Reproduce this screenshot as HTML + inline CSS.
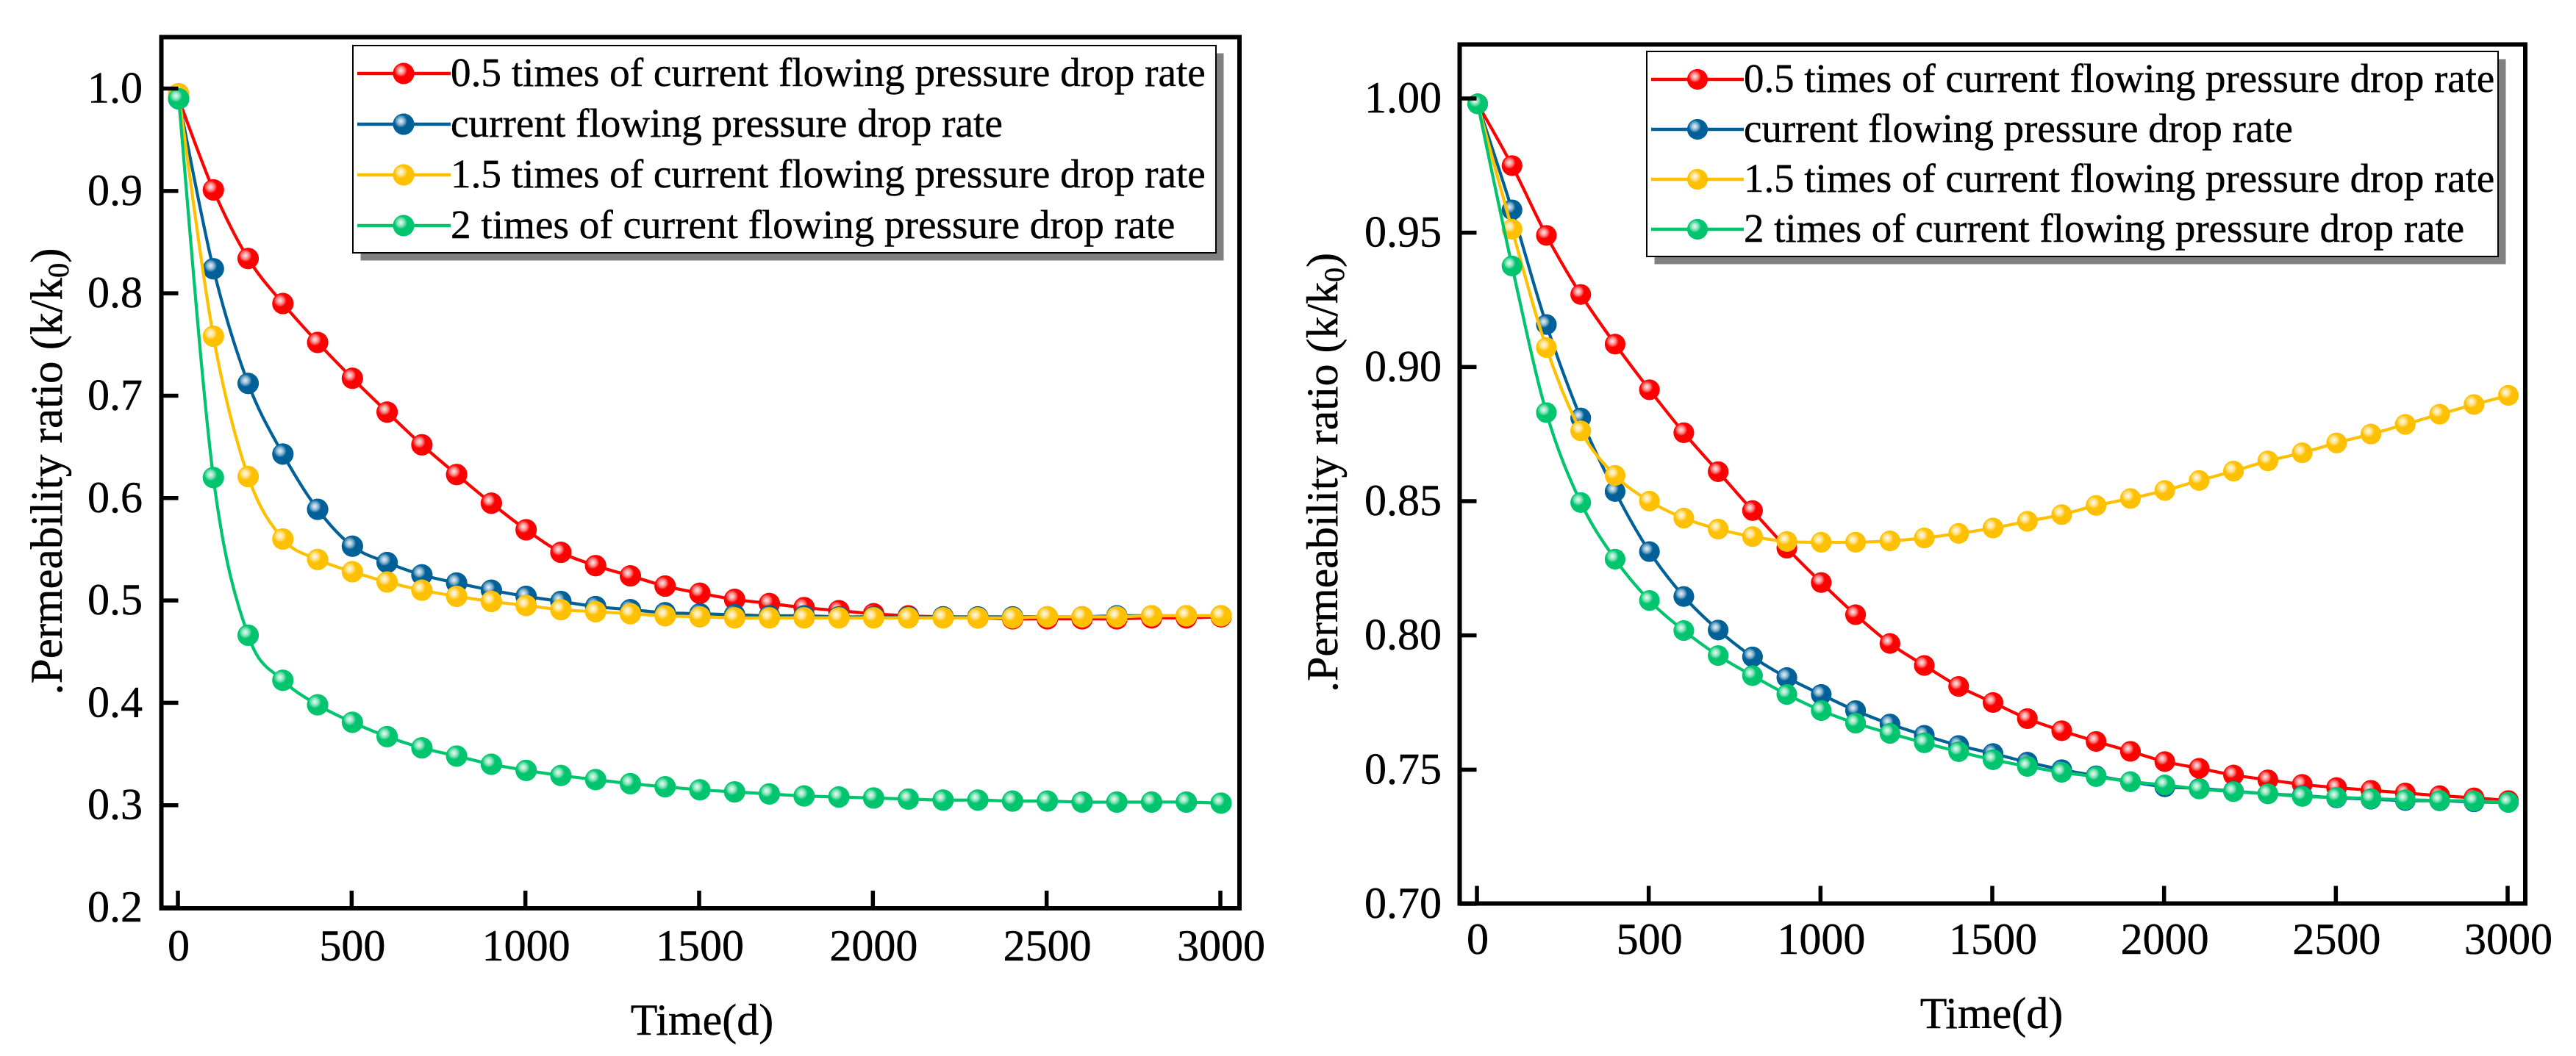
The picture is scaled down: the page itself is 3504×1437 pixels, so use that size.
<!DOCTYPE html>
<html lang="en">
<head>
<meta charset="utf-8">
<title>Permeability ratio over time</title>
<style>
html,body{margin:0;padding:0;background:#fff}
svg{display:block}
text{font-family:"Liberation Serif","Times New Roman",serif;fill:#000;stroke:#000;stroke-width:0.45px}
</style>
</head>
<body>
<svg id="figure" xmlns="http://www.w3.org/2000/svg" width="3504" height="1437" viewBox="0 0 3504 1437">
<defs id="defs"></defs>
<rect width="3504" height="1437" fill="#fff"></rect>
</svg>
<script>
const timeDays = [0,100,200,300,400,500,600,700,800,900,1000,1100,1200,1300,1400,1500,1600,1700,1800,1900,2000,2100,2200,2300,2400,2500,2600,2700,2800,2900,3000];
const xTickLabels = [0,500,1000,1500,2000,2500,3000];
const leftYTicks = ["0.2","0.3","0.4","0.5","0.6","0.7","0.8","0.9","1.0"];
const rightYTicks = ["0.70","0.75","0.80","0.85","0.90","0.95","1.00"];
const seriesLabels = ["0.5 times of current flowing pressure drop rate","current flowing pressure drop rate","1.5 times of current flowing pressure drop rate","2 times of current flowing pressure drop rate"];
const seriesKeys = ["half-rate","current-rate","one-and-half-rate","double-rate"];
const seriesColors = ["#ff0000","#006199","#ffc000","#00c56e"];

const leftHalf = [0.990,0.901,0.834,0.790,0.752,0.717,0.684,0.652,0.623,0.595,0.569,0.547,0.534,0.524,0.514,0.507,0.501,0.497,0.493,0.490,0.487,0.485,0.484,0.483,0.482,0.482,0.482,0.482,0.483,0.483,0.484];
const leftCurrent = [0.990,0.824,0.712,0.643,0.589,0.553,0.537,0.525,0.517,0.510,0.504,0.499,0.494,0.491,0.488,0.487,0.486,0.485,0.485,0.484,0.484,0.484,0.484,0.484,0.484,0.484,0.484,0.485,0.485,0.485,0.485];
const leftOneHalf = [0.995,0.758,0.621,0.560,0.540,0.528,0.518,0.510,0.504,0.499,0.495,0.491,0.489,0.487,0.485,0.484,0.483,0.483,0.483,0.483,0.483,0.483,0.483,0.483,0.483,0.484,0.484,0.484,0.485,0.485,0.485];
const leftDouble = [0.990,0.620,0.466,0.422,0.398,0.381,0.367,0.356,0.348,0.340,0.334,0.329,0.325,0.321,0.318,0.315,0.313,0.311,0.309,0.308,0.307,0.306,0.305,0.305,0.304,0.304,0.303,0.303,0.303,0.303,0.302];

const rightHalf = [0.998,0.975,0.949,0.927,0.9085,0.8915,0.8755,0.861,0.8465,0.8325,0.8197,0.8077,0.797,0.7888,0.781,0.775,0.769,0.7645,0.7605,0.7568,0.753,0.7505,0.748,0.7462,0.7445,0.7433,0.7423,0.7413,0.7403,0.7395,0.7385];
const rightCurrent = [0.998,0.9585,0.9158,0.881,0.8536,0.8312,0.8145,0.802,0.792,0.7843,0.778,0.772,0.767,0.7628,0.759,0.756,0.7528,0.750,0.7477,0.7455,0.7436,0.743,0.742,0.741,0.7403,0.7395,0.739,0.7385,0.7384,0.738,0.7378];
const rightOneHalf = [0.998,0.9513,0.9072,0.8762,0.8596,0.850,0.8437,0.8396,0.8368,0.835,0.8347,0.8347,0.8352,0.8363,0.838,0.840,0.8425,0.845,0.8484,0.851,0.854,0.8577,0.8612,0.865,0.868,0.8717,0.875,0.8786,0.8824,0.886,0.8894];
const rightDouble = [0.998,0.9376,0.883,0.8495,0.8284,0.813,0.8018,0.7925,0.785,0.778,0.772,0.7673,0.7635,0.760,0.7567,0.7537,0.7512,0.749,0.7474,0.7455,0.7443,0.7428,0.7418,0.741,0.740,0.7397,0.7392,0.7388,0.7385,0.7383,0.7378];

const leftSeries = [leftHalf,leftCurrent,leftOneHalf,leftDouble];
const rightSeries = [rightHalf,rightCurrent,rightOneHalf,rightDouble];

const svg = document.getElementById('figure');
const defs = document.getElementById('defs');
const NS = 'http://www.w3.org/2000/svg';

function mk(parent, tag, attrs, txt){
  const e = document.createElementNS(NS, tag);
  for (const k in attrs) e.setAttribute(k, attrs[k]);
  if (txt !== undefined) e.textContent = txt;
  parent.appendChild(e);
  return e;
}
seriesColors.forEach(function(c,i){
  const g = mk(defs,'radialGradient',{id:'ball'+i,cx:'0.37',cy:'0.36',r:'0.62'});
  mk(g,'stop',{offset:'0','stop-color':'#ffffff','stop-opacity':'0.92'});
  mk(g,'stop',{offset:'0.14','stop-color':'#ffffff','stop-opacity':'0.72'});
  mk(g,'stop',{offset:'0.48','stop-color':c,'stop-opacity':'1'});
  mk(g,'stop',{offset:'1','stop-color':c,'stop-opacity':'1'});
});

function smoothPath(pts){
  let d = 'M' + pts[0][0] + ' ' + pts[0][1];
  for (let i=0;i<pts.length-1;i++){
    const p0 = pts[Math.max(i-1,0)], p1 = pts[i], p2 = pts[i+1], p3 = pts[Math.min(i+2,pts.length-1)];
    const c1x = p1[0]+(p2[0]-p0[0])/6, c1y = p1[1]+(p2[1]-p0[1])/6;
    const c2x = p2[0]-(p3[0]-p1[0])/6, c2y = p2[1]-(p3[1]-p1[1])/6;
    d += 'C'+c1x.toFixed(2)+' '+c1y.toFixed(2)+' '+c2x.toFixed(2)+' '+c2y.toFixed(2)+' '+p2[0].toFixed(2)+' '+p2[1].toFixed(2);
  }
  return d;
}

function drawPanel(side, p, yTicks, series){
  const x = function(v){ return p.x0 + v * (p.x3000 - p.x0) / 3000; };
  const y = function(v){ return p.yTop + (p.vTop - v) * (p.yBot - p.yTop) / (p.vTop - p.vBot); };
  const panel = mk(svg,'g',{});
  
  

  // series
  series.forEach(function(vals,si){
    const g = mk(panel,'g',{});
    
    
    const pts = vals.map(function(v,i){ return [x(timeDays[i]), y(v)]; });
    const line = mk(g,'path',{d:smoothPath(pts),fill:'none',stroke:seriesColors[si],'stroke-width':4.2,'stroke-linejoin':'round'});
    
    
    pts.forEach(function(pt,i){
      const m = mk(g,'g',{});
      
      
      mk(m,'circle',{cx:pt[0],cy:pt[1],r:p.r,fill:seriesColors[si]});
      mk(m,'circle',{cx:pt[0],cy:pt[1],r:p.r,fill:'url(#ball'+si+')'});
    });
  });

  // frame
  const frame = mk(panel,'rect',{x:p.fl,y:p.ft,width:p.fr-p.fl,height:p.fb-p.ft,fill:'none',stroke:'#000','stroke-width':6});
  
  

  // x ticks
  xTickLabels.forEach(function(v){
    const t = mk(panel,'line',{x1:x(v)-1,x2:x(v)-1,y1:p.fb,y2:p.fb-24,stroke:'#000','stroke-width':5.5});
    
    
    const l = mk(panel,'text',{x:x(v),y:p.xLabelY,'font-size':p.tickFont,'text-anchor':'middle'},String(v));
    
    
  });
  // y ticks
  yTicks.forEach(function(s){
    const v = parseFloat(s);
    const t = mk(panel,'line',{x1:p.fl,x2:p.fl+23,y1:y(v),y2:y(v),stroke:'#000','stroke-width':5.5});
    
    
    const l = mk(panel,'text',{x:p.yLabelX,y:y(v)+19,'font-size':p.tickFont,'text-anchor':'end'},s);
    
    
  });

  // axis titles
  const xt = mk(panel,'text',{x:p.xTitleX,y:p.xTitleY,'font-size':60,'text-anchor':'middle'},'Time(d)');
  
  
  const yt = mk(panel,'text',{transform:'translate('+p.yTitleX+' '+p.yTitleY+') rotate(-90)','font-size':p.yTitleFont,'text-anchor':'middle'});
  
  
  mk(yt,'tspan',{},'.Permeability ratio (k/k');
  mk(yt,'tspan',{dy:9,'font-size':p.yTitleFont*0.66},'0');
  mk(yt,'tspan',{dy:-9},')');

  // legend
  const lg = mk(panel,'g',{});
  
  
  mk(lg,'rect',{x:p.lx+10.5,y:p.ly+10.5,width:p.lw,height:p.lh,fill:'#808080'});
  mk(lg,'rect',{x:p.lx,y:p.ly,width:p.lw,height:p.lh,fill:'#fff',stroke:'#000','stroke-width':2});
  seriesLabels.forEach(function(s,i){
    const ry = p.rows[i];
    const e = mk(lg,'g',{});
    
    
    mk(e,'line',{x1:p.lineX0,x2:p.lineX1,y1:ry,y2:ry,stroke:seriesColors[i],'stroke-width':4.4});
    mk(e,'circle',{cx:p.markX,cy:ry,r:p.r,fill:seriesColors[i]});
    mk(e,'circle',{cx:p.markX,cy:ry,r:p.r,fill:'url(#ball'+i+')'});
    mk(e,'text',{x:p.lineX1,y:ry+17,'font-size':p.legendFont},s);
  });
}

drawPanel('left',{
  x0:243,x3000:1661,yTop:120.5,vTop:1.0,yBot:1235,vBot:0.2,
  fl:219.5,fr:1686,ft:50.5,fb:1236,r:14.5,
  xLabelY:1307,yLabelX:194,tickFont:60,
  xTitleX:955,xTitleY:1408,yTitleX:84,yTitleY:641.5,yTitleFont:61,
  lx:480,ly:62,lw:1174,lh:282,rows:[100,169,238,307],
  lineX0:486,lineX1:613,markX:549,legendFont:55.2
},leftYTicks,leftSeries);

drawPanel('right',{
  x0:2010,x3000:3412,yTop:134,vTop:1.0,yBot:1230,vBot:0.7,
  fl:1985.5,fr:3435,ft:60.5,fb:1229.5,r:14,
  xLabelY:1298,yLabelX:1961,tickFont:60,
  xTitleX:2709,xTitleY:1399,yTitleX:1819,yTitleY:643,yTitleFont:60,
  lx:2240,ly:70,lw:1158,lh:279,rows:[108,176,244,312],
  lineX0:2246,lineX1:2372,markX:2309,legendFont:54.9
},rightYTicks,rightSeries);
</script>
</body>
</html>
